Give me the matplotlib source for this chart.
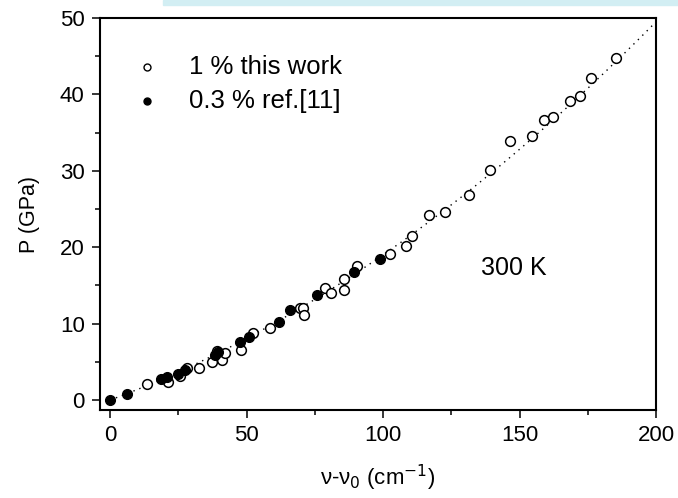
import matplotlib
matplotlib.use("Agg")
import matplotlib.pyplot as plt
import numpy as np
from matplotlib.patches import Rectangle

plt.rcParams['font.family'] = ['Liberation Sans', 'DejaVu Sans']

# Raman shift (cm^-1) and pressure (GPa): 1 % this work
shift_this = [13.6, 21.3, 25.7, 28.3, 32.7, 37.5, 39.1, 41.0, 42.2, 48.0,
              52.5, 58.7, 69.5, 70.7, 71.0, 78.9, 81.0, 85.6, 85.6, 90.3,
              102.5, 108.3, 110.5, 116.8, 122.6, 131.5, 139.2, 146.4, 154.4,
              159.0, 162.3, 168.4, 172.2, 176.1, 185.3]
press_this = [2.1, 2.4, 3.1, 4.2, 4.2, 5.0, 6.4, 5.2, 6.1, 6.5,
              8.8, 9.4, 12.1, 12.0, 11.1, 14.7, 14.0, 15.9, 14.4, 17.5,
              19.1, 20.1, 21.5, 24.2, 24.6, 26.8, 30.1, 33.9, 34.5,
              36.6, 37.1, 39.1, 39.8, 42.2, 44.7]

# 0.3 % ref.[11]
shift_ref = [0.0, 6.2, 18.7, 20.9, 25.0, 27.5, 38.5, 39.7, 47.7, 51.0,
             62.0, 66.0, 75.8, 89.5, 98.7]
press_ref = [0.0, 0.8, 2.7, 3.0, 3.4, 3.9, 5.9, 6.3, 7.6, 8.3,
             10.2, 11.8, 13.7, 16.7, 18.5]

# quadratic fit P = a*x + b*x^2
fit_a, fit_b = 0.1325, 0.000575

fig = plt.figure(figsize=(6.78, 4.98), dpi=100)
ax = fig.add_axes([100/678, 1 - 410/498, 556/678, 392/498])

xf = np.linspace(0, 200, 300)
ax.plot(xf, fit_a * xf + fit_b * xf**2, color='black', lw=1.0,
        linestyle=(0, (1, 3.5)), zorder=1)

ax.plot(shift_this, press_this, 'o', ms=7, mfc='white', mec='black',
        mew=1.1, linestyle='none', zorder=2)
ax.plot(shift_ref, press_ref, 'o', ms=7, mfc='black', mec='black',
        mew=1.0, linestyle='none', zorder=3)

ax.set_xlim(-3.7, 200)
ax.set_ylim(-1.3, 50)
ax.set_xticks([0, 50, 100, 150, 200])
ax.set_xticks([25, 75, 125, 175], minor=True)
ax.set_yticks([0, 10, 20, 30, 40, 50])
ax.set_yticks([5, 15, 25, 35, 45], minor=True)
ax.tick_params(which='both', direction='out', width=1.1, labelsize=16)
ax.tick_params(which='major', length=6, pad=5)
ax.tick_params(which='minor', length=3.5)
for sp in ax.spines.values():
    sp.set_linewidth(1.5)

ax.set_xlabel(r'ν-ν$_0$ (cm$^{-1}$)', fontsize=16, labelpad=12)
ax.set_ylabel('P (GPa)', fontsize=15.5, labelpad=14)

# legend drawn as markers and text
ax.plot([13.5], [43.6], 'o', ms=5, mfc='white', mec='black', mew=1.0,
        clip_on=False)
ax.plot([13.5], [39.1], 'o', ms=5, mfc='black', mec='black', mew=1.0,
        clip_on=False)
ax.text(29, 43.6, '1 % this work', fontsize=18.5, va='center', ha='left')
ax.text(29, 39.1, '0.3 % ref.[11]', fontsize=18.5, va='center', ha='left')

ax.text(135.8, 17.3, '300 K', fontsize=18, va='center', ha='left')

# faint tinted strip along the top edge
fig.patches.append(Rectangle((0.24, 0.989), 0.76, 0.011,
                             transform=fig.transFigure,
                             color='#d2eef3', zorder=0))

fig.savefig('out.png', dpi=100)
